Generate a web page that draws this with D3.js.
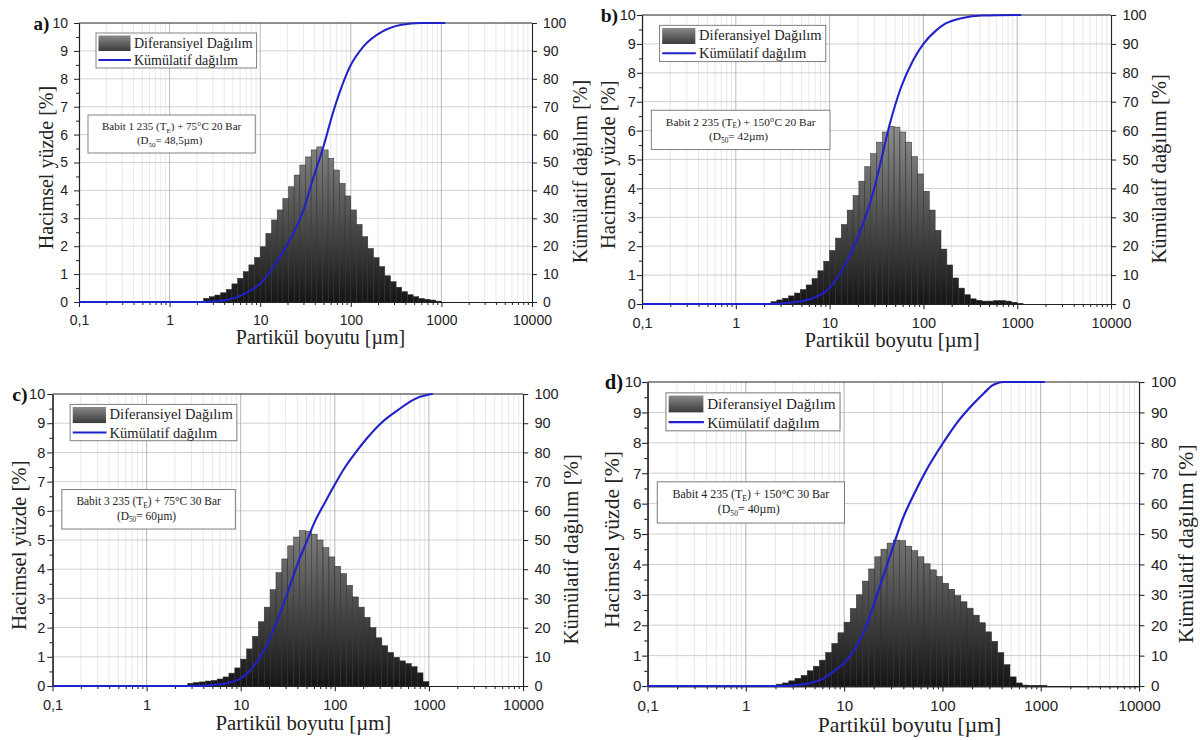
<!DOCTYPE html>
<html>
<head>
<meta charset="utf-8">
<script src="https://cdn.jsdelivr.net/npm/d3@7/dist/d3.min.js"></script>
<style>
  body { margin: 0; background: #fff; }
  svg { display: block; }
</style>
</head>
<body>
<svg id="chart" width="1200" height="740"></svg>
<script>
// ---------------- DATA ----------------
const binsPerDecade = 16;               // size classes per decade (log-spaced)
const xTickValues = [0.1, 1, 10, 100, 1000, 10000];
const xTickLabels = ["0,1", "1", "10", "100", "1000", "10000"];
const leftTickValues = [0, 1, 2, 3, 4, 5, 6, 7, 8, 9, 10];
const rightTickValues = [0, 10, 20, 30, 40, 50, 60, 70, 80, 90, 100];
const legendLabels = ["Diferansiyel Dağılım", "Kümülatif dağılım"];
const xTitle = "Partikül boyutu [µm]";
const leftTitle = "Hacimsel yüzde [%]";
const rightTitle = "Kümülatif dağılım [%]";

const panelLetters = ["a)", "b)", "c)", "d)"];
const sampleNumbers = ["1", "2", "3", "4"];
const sampleTemps = ["75°C", "150°C", "75°C", "150°C"];
const samplePressures = ["20 Bar", "20 Bar", "30 Bar", "30 Bar"];
const sampleD50 = ["48,5", "42", "60", "40"];

// differential distribution (volume %) per size class, starting at class index firstBin
const panelA_firstBin = 6;
const panelA_heights = [0.13,0.19,0.25,0.33,0.45,0.65,0.85,1.09,1.33,1.6,1.98,2.46,2.94,3.3,3.71,4.13,4.55,4.91,5.2,5.45,5.56,5.45,5.15,4.73,4.25,3.8,3.3,2.78,2.34,1.92,1.59,1.27,0.94,0.73,0.53,0.37,0.26,0.19,0.13,0.1,0.07,0.03];
const panelB_firstBin = 6;
const panelB_heights = [0.08,0.14,0.2,0.28,0.38,0.5,0.66,0.88,1.15,1.48,1.85,2.28,2.75,3.25,3.75,4.25,4.75,5.2,5.6,5.95,6.15,6.12,5.95,5.6,5.1,4.5,3.9,3.25,2.55,1.9,1.35,0.9,0.55,0.32,0.18,0.13,0.1,0.1,0.12,0.12,0.1,0.06,0.02];
const panelC_firstBin = 7;
const panelC_heights = [0.09,0.12,0.14,0.17,0.19,0.24,0.31,0.44,0.62,0.92,1.27,1.7,2.2,2.7,3.3,3.88,4.35,4.8,5.1,5.32,5.3,5.2,5.0,4.74,4.42,4.1,3.85,3.45,3.05,2.7,2.35,2.0,1.65,1.38,1.15,0.98,0.86,0.77,0.66,0.45,0.15];
const panelD_firstBin = 5;
const panelD_heights = [0.06,0.1,0.17,0.25,0.35,0.5,0.65,0.85,1.1,1.4,1.75,2.1,2.55,3.0,3.45,3.85,4.25,4.5,4.7,4.8,4.78,4.6,4.45,4.25,4.02,3.82,3.6,3.38,3.18,2.97,2.77,2.56,2.33,2.08,1.78,1.47,1.1,0.7,0.3,0.1,0.03,0.02,0.02,0.02];

// cumulative distribution (%) read at particle sizes (µm)
const panelA_cumSize = [0.1, 2.5, 3.3, 4.6, 6.8, 10, 14.8, 21.8, 29.1, 39, 49.7, 63.4, 84.7, 98, 138, 224, 364, 592, 1100];
const panelA_cumPct  = [0, 0, 0.3, 1, 3, 6.6, 13.8, 23, 31.7, 45, 55.5, 67.7, 79.6, 84.4, 91.6, 97, 99.4, 100, 100];
const panelB_cumSize = [0.1, 2, 3.1, 4.5, 6.6, 9.6, 15.4, 24.7, 29.9, 34.4, 43.6, 57.8, 76.8, 100, 135, 171, 262, 420, 1100];
const panelB_cumPct  = [0, 0, 0.2, 0.8, 2, 5, 15, 31, 40, 48, 62, 75, 84, 90, 94.5, 97, 99, 99.8, 100];
const panelC_cumSize = [0.1, 3, 4.8, 6.9, 10, 12.2, 16.1, 19.4, 23.4, 28.3, 34.1, 41.1, 49.6, 59.8, 79.1, 100, 126, 167, 222, 322, 469, 681, 1000, 1100];
const panelC_cumPct  = [0, 0, 0.3, 0.9, 2.6, 4.9, 10, 14.6, 20.9, 27.7, 35.2, 42.6, 49, 55.5, 63, 69, 74.5, 80, 85, 90.5, 94.5, 98, 99.8, 100];
const panelD_cumSize = [0.1, 1.9, 3.3, 4.7, 6.2, 8.2, 10, 13, 15.6, 18.7, 22.5, 27, 32.4, 38.9, 51.2, 67.3, 100, 140, 202, 266, 319, 366, 420, 1100];
const panelD_cumPct  = [0, 0, 0.3, 1.1, 2.5, 5.3, 7.5, 12.4, 17.3, 23.9, 31.6, 39.3, 47, 54.5, 63, 70.5, 79.6, 86.5, 92.5, 96.4, 98.8, 99.7, 100, 100];

// ---------------- LAYOUT ----------------
const SANS = "'Liberation Sans', Arial, sans-serif";
const SERIF = "'Liberation Serif', 'Times New Roman', serif";
const BLUE = "#2020cc";
const W0 = 453; // base plot width (all panels are scaled copies)

const panels = [
  { L: 79,    T: 23,  R: 532,  B: 302, firstBin: panelA_firstBin, heights: panelA_heights, cumS: panelA_cumSize, cumP: panelA_cumPct, labelEnd: 11, letterGap: 3,   rightTitleX: 48 },
  { L: 642,   T: 15,  R: 1111, B: 304, firstBin: panelB_firstBin, heights: panelB_heights, cumS: panelB_cumSize, cumP: panelB_cumPct, labelEnd: 6,  letterGap: 1.5, rightTitleX: 46 },
  { L: 52.5,  T: 394, R: 523,  B: 686, firstBin: panelC_firstBin, heights: panelC_heights, cumS: panelC_cumSize, cumP: panelC_cumPct, labelEnd: 7,  letterGap: 1.5, rightTitleX: 46 },
  { L: 647.5, T: 382, R: 1139, B: 686, firstBin: panelD_firstBin, heights: panelD_heights, cumS: panelD_cumSize, cumP: panelD_cumPct, labelEnd: 5.5, letterGap: 1.5, rightTitleX: 43 }
];

const svg = d3.select("#chart");
const defs = svg.append("defs");

// legend swatch gradient
const sg = defs.append("linearGradient").attr("id", "swatchGrad")
  .attr("x1", 0).attr("y1", 0).attr("x2", 0).attr("y2", 1);
sg.append("stop").attr("offset", 0).attr("stop-color", "#8a8a8a");
sg.append("stop").attr("offset", 1).attr("stop-color", "#3a3a3a");

panels.forEach((cfg, pi) => {
  const s = (cfg.R - cfg.L) / W0;
  const w = W0;
  const h = (cfg.B - cfg.T) / s;

  const x = d3.scaleLog().domain([0.1, 10000]).range([0, w]);
  const yL = d3.scaleLinear().domain([0, 10]).range([h, 0]);
  const yR = d3.scaleLinear().domain([0, 100]).range([h, 0]);

  const g = svg.append("g").attr("transform", `translate(${cfg.L},${cfg.T}) scale(${s})`);

  // bar gradient (user space of the panel)
  const gid = "barGrad" + pi;
  const bg = defs.append("linearGradient").attr("id", gid)
    .attr("gradientUnits", "userSpaceOnUse")
    .attr("x1", 0).attr("y1", yL(0)).attr("x2", 0).attr("y2", yL(6.2));
  bg.append("stop").attr("offset", 0).attr("stop-color", "#151515");
  bg.append("stop").attr("offset", 1).attr("stop-color", "#8e8e8e");

  // grid
  const minorVals = [];
  const majorVals = [];
  for (let e = -1; e <= 4; e++) {
    majorVals.push(Math.pow(10, e));
    if (e < 4) for (let m = 2; m <= 9; m++) minorVals.push(m * Math.pow(10, e));
  }
  const grid = g.append("g");
  grid.selectAll(".vmin").data(minorVals).enter().append("line")
    .attr("x1", d => x(d)).attr("x2", d => x(d)).attr("y1", 0).attr("y2", h)
    .attr("stroke", "#e3e3e3").attr("stroke-width", 0.8);
  grid.selectAll(".hmaj").data(leftTickValues.filter(v => v > 0 && v < 10)).enter().append("line")
    .attr("x1", 0).attr("x2", w).attr("y1", d => yL(d)).attr("y2", d => yL(d))
    .attr("stroke", "#c6c6c6").attr("stroke-width", 0.8);
  grid.selectAll(".vmaj").data(majorVals.filter(v => v > 0.1 && v < 10000)).enter().append("line")
    .attr("x1", d => x(d)).attr("x2", d => x(d)).attr("y1", 0).attr("y2", h)
    .attr("stroke", "#a9a9a9").attr("stroke-width", 0.8);

  // bars
  const bars = cfg.heights.map((v, i) => {
    const k = cfg.firstBin + i;
    return { lo: Math.pow(10, k / binsPerDecade), hi: Math.pow(10, (k + 1) / binsPerDecade), v };
  });
  g.append("g").selectAll("rect").data(bars).enter().append("rect")
    .attr("x", d => x(d.lo))
    .attr("width", d => x(d.hi) - x(d.lo))
    .attr("y", d => yL(d.v))
    .attr("height", d => yL(0) - yL(d.v))
    .attr("fill", `url(#${gid})`)
    .attr("stroke", "#2c2c2c").attr("stroke-width", 0.5);

  // legend
  const lg = g.append("g").attr("transform", "translate(17,10)");
  const lgBox = lg.append("rect").attr("x", 0).attr("y", 0).attr("height", 35)
    .attr("fill", "#fff").attr("stroke", "#777").attr("stroke-width", 0.9);
  lg.append("rect").attr("x", 2.5).attr("y", 2.5).attr("width", 32).attr("height", 15.5)
    .attr("fill", "url(#swatchGrad)");
  lg.append("line").attr("x1", 2.5).attr("x2", 35).attr("y1", 27).attr("y2", 27)
    .attr("stroke", BLUE).attr("stroke-width", 2);
  const lt1 = lg.append("text").attr("x", 38).attr("y", 14.5).text(legendLabels[0])
    .attr("font-family", SERIF).attr("font-size", 14).attr("fill", "#222");
  const lt2 = lg.append("text").attr("x", 38).attr("y", 32).text(legendLabels[1])
    .attr("font-family", SERIF).attr("font-size", 14).attr("fill", "#222");
  const lw = Math.max(lt1.node().getComputedTextLength(), lt2.node().getComputedTextLength());
  lgBox.attr("width", 38 + lw + 4);

  // annotation box
  const an = g.append("g").attr("transform", "translate(9,92)");
  const anBox = an.append("rect").attr("x", 0).attr("y", 0).attr("height", 38)
    .attr("fill", "#fff").attr("stroke", "#777").attr("stroke-width", 0.9);
  const t1 = an.append("text").attr("y", 15).attr("text-anchor", "middle")
    .attr("font-family", SERIF).attr("font-size", 11).attr("fill", "#222");
  t1.append("tspan").text(`Babit ${sampleNumbers[pi]} 235 (T`);
  t1.append("tspan").text("E").attr("font-size", 7).attr("dy", 2.5);
  t1.append("tspan").text(`) + ${sampleTemps[pi]} ${samplePressures[pi]}`).attr("dy", -2.5);
  const t2 = an.append("text").attr("y", 29).attr("text-anchor", "middle")
    .attr("font-family", SERIF).attr("font-size", 11).attr("fill", "#222");
  t2.append("tspan").text("(D");
  t2.append("tspan").text("50").attr("font-size", 7).attr("dy", 2.5);
  t2.append("tspan").text(`= ${sampleD50[pi]}µm)`).attr("dy", -2.5);
  const aw = t1.node().getComputedTextLength() + 28;
  anBox.attr("width", aw);
  t1.attr("x", aw / 2);
  t2.attr("x", aw / 2 - 2);

  // axes
  const styleAxis = sel => {
    sel.selectAll("path.domain").attr("stroke", "#222").attr("stroke-width", 1.1);
    sel.selectAll(".tick line").attr("stroke", "#222").attr("stroke-width", 1);
    sel.selectAll(".tick text").attr("font-family", SANS).attr("font-size", 14).attr("fill", "#222");
  };
  const halfVals = d3.range(0.5, 10, 1);
  g.append("g").call(d3.axisLeft(yL).tickValues(halfVals).tickSize(3).tickSizeOuter(0).tickFormat(""))
    .call(styleAxis);
  const leftAxis = g.append("g").call(d3.axisLeft(yL).tickValues(leftTickValues).tickSize(5).tickSizeOuter(0)
    .tickPadding(Math.max(0.5, cfg.labelEnd - 5)).tickFormat(d3.format("d")))
    .call(styleAxis);
  g.append("g").attr("transform", `translate(${w},0)`)
    .call(d3.axisRight(yR).tickValues(rightTickValues).tickSize(5).tickSizeOuter(0).tickPadding(6).tickFormat(d3.format("d")))
    .call(styleAxis);
  g.append("g").attr("transform", `translate(0,${h})`)
    .call(d3.axisBottom(x).tickValues(minorVals).tickSize(3).tickSizeOuter(0).tickFormat(""))
    .call(styleAxis);
  g.append("g").attr("transform", `translate(0,${h})`)
    .call(d3.axisBottom(x).tickValues(xTickValues).tickSize(5).tickSizeOuter(0).tickPadding(8)
      .tickFormat((d, i) => xTickLabels[i]))
    .call(styleAxis);
  g.append("line").attr("x1", 0).attr("x2", w).attr("y1", 0).attr("y2", 0)
    .attr("stroke", "#222").attr("stroke-width", 1.1);

  // cumulative curve
  const cum = cfg.cumS.map((sz, i) => ({ s: sz, p: cfg.cumP[i] }));
  g.append("path").datum(cum)
    .attr("d", d3.line().x(d => x(d.s)).y(d => yR(d.p)).curve(d3.curveMonotoneX))
    .attr("fill", "none").attr("stroke", BLUE).attr("stroke-width", 2);

  // titles
  g.append("text").attr("transform", `translate(-33,${h / 2 + 5}) rotate(-90)`)
    .attr("text-anchor", "middle").attr("dy", "0.35em")
    .attr("font-family", SERIF).attr("font-size", 20).attr("fill", "#222").text(leftTitle);
  g.append("text").attr("transform", `translate(${w + cfg.rightTitleX},${h / 2 + 9}) rotate(-90)`)
    .attr("text-anchor", "middle").attr("dy", "0.35em")
    .attr("font-family", SERIF).attr("font-size", 20).attr("fill", "#222").text(rightTitle);
  g.append("text").attr("x", w / 2 + 15).attr("y", h + 42)
    .attr("text-anchor", "middle")
    .attr("font-family", SERIF).attr("font-size", 20).attr("fill", "#222").text(xTitle);

  // panel letter placed just left of the top tick label
  const topLabel = leftAxis.selectAll(".tick text").filter(d => d === 10).node();
  const topLabelW = topLabel.getComputedTextLength();
  const letterX = -(cfg.labelEnd + topLabelW + cfg.letterGap);
  g.append("text").attr("x", letterX).attr("y", 6.5)
    .attr("text-anchor", "end")
    .attr("font-family", SERIF).attr("font-weight", "bold").attr("font-size", 19).attr("fill", "#111")
    .text(panelLetters[pi]);
});
</script>
</body>
</html>
